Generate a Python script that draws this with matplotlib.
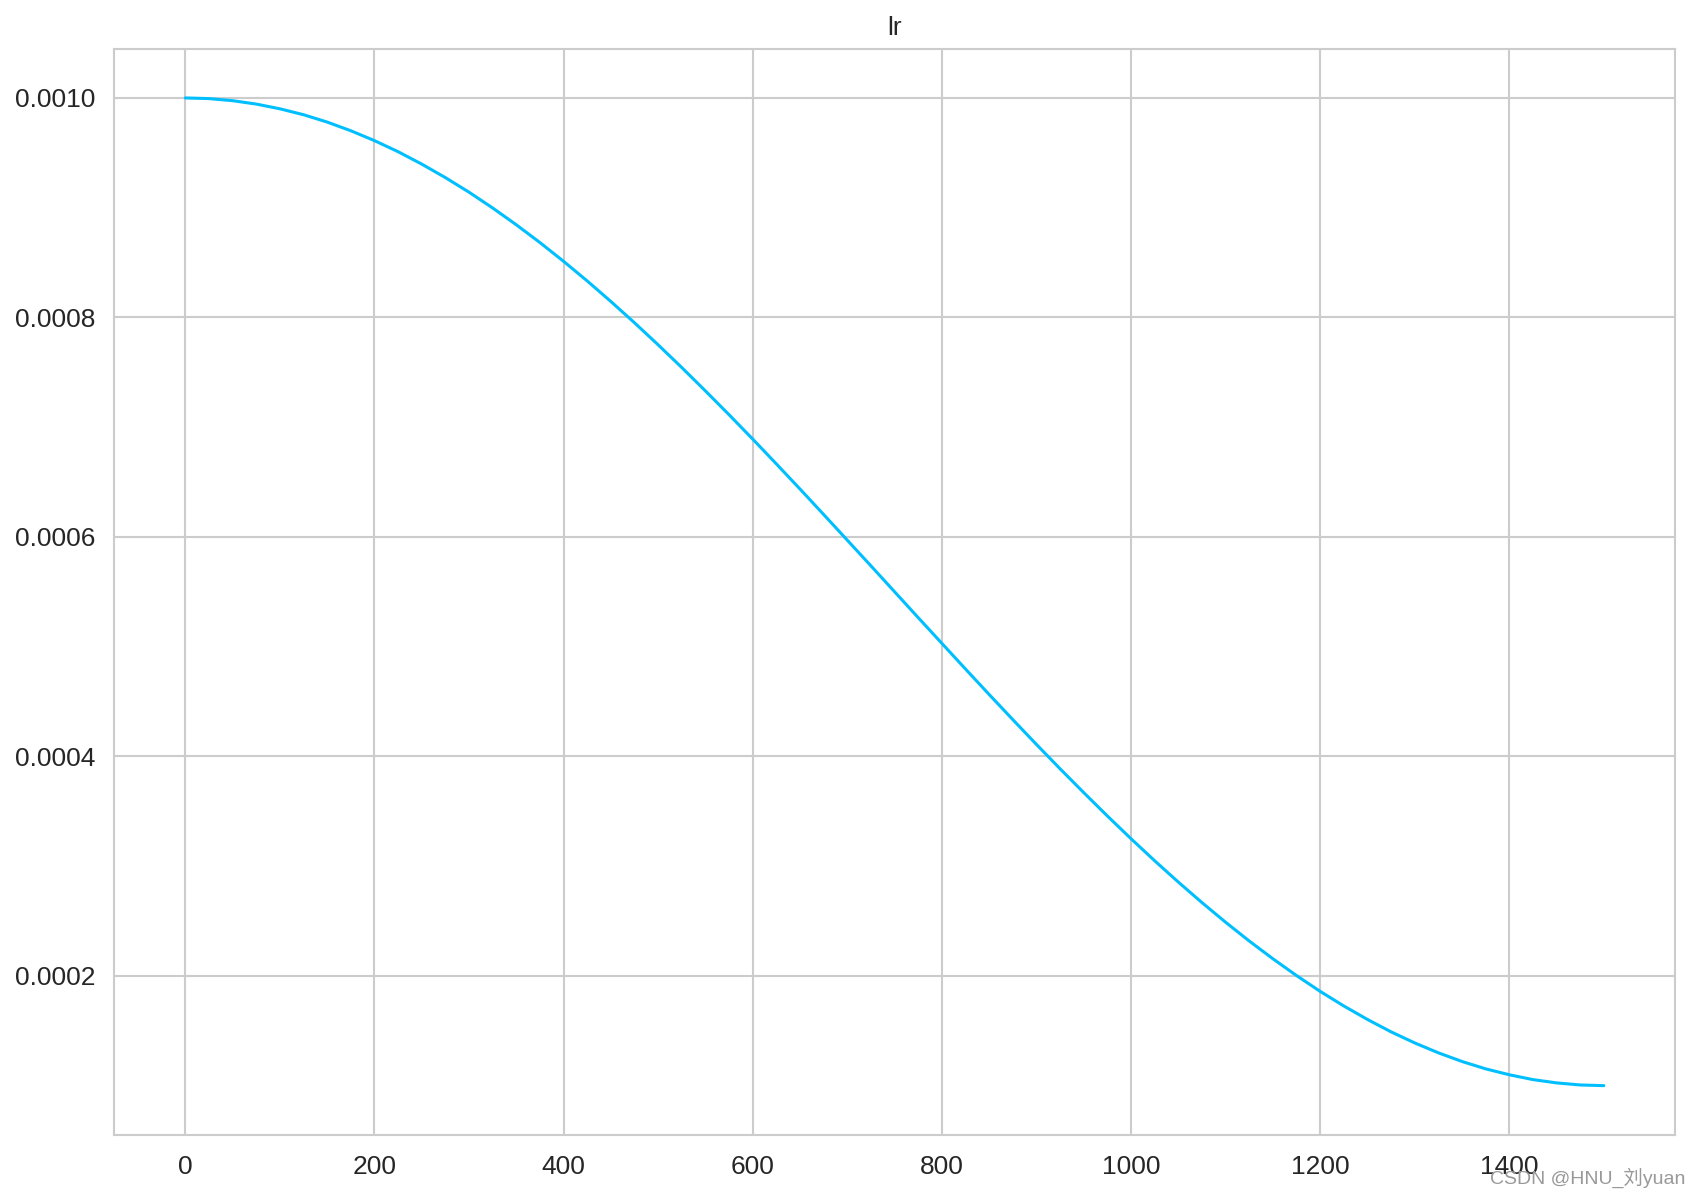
import matplotlib
matplotlib.use('Agg')
import matplotlib.pyplot as plt
import seaborn as sns

# learning rate, every 25 steps
steps = list(range(0, 1501, 25))
lr = [0.0010000, 0.0009994, 0.0009975, 0.0009944, 0.0009901, 0.0009847,
      0.0009780, 0.0009701, 0.0009611, 0.0009510, 0.0009397, 0.0009274,
      0.0009141, 0.0008997, 0.0008844, 0.0008682, 0.0008511, 0.0008332,
      0.0008145, 0.0007951, 0.0007750, 0.0007543, 0.0007330, 0.0007113,
      0.0006891, 0.0006665, 0.0006436, 0.0006204, 0.0005970, 0.0005736,
      0.0005500, 0.0005264, 0.0005030, 0.0004796, 0.0004564, 0.0004335,
      0.0004109, 0.0003887, 0.0003670, 0.0003457, 0.0003250, 0.0003049,
      0.0002855, 0.0002668, 0.0002489, 0.0002318, 0.0002156, 0.0002003,
      0.0001859, 0.0001726, 0.0001603, 0.0001490, 0.0001389, 0.0001299,
      0.0001220, 0.0001153, 0.0001099, 0.0001055, 0.0001025, 0.0001006,
      0.0001000]

sns.set_style('whitegrid')
plt.rcParams['font.family'] = ['Liberation Sans', 'Noto Sans CJK SC', 'DejaVu Sans']

fig = plt.figure(figsize=(16.9, 11.93), dpi=100)
ax = fig.add_axes([0.0677, 0.0486, 0.9233, 0.9107])

ax.plot(steps, lr, color='#00BFFF', linewidth=2.2)
ax.set_title('lr', fontsize=19, color='#262626', pad=10)
ax.tick_params(labelsize=19, colors='#262626')
ax.tick_params(axis='x', pad=11)
ax.tick_params(axis='y', pad=10)
ax.grid(True, color='#cccccc', linewidth=1.5)
for sp in ax.spines.values():
    sp.set_color('#cccccc')
    sp.set_linewidth(1.5)

fig.text(0.9975, 0.004, 'CSDN @HNU_刘yuan', ha='right', va='bottom',
         fontsize=14, color='#999999')

fig.savefig('out.png', dpi=100)
